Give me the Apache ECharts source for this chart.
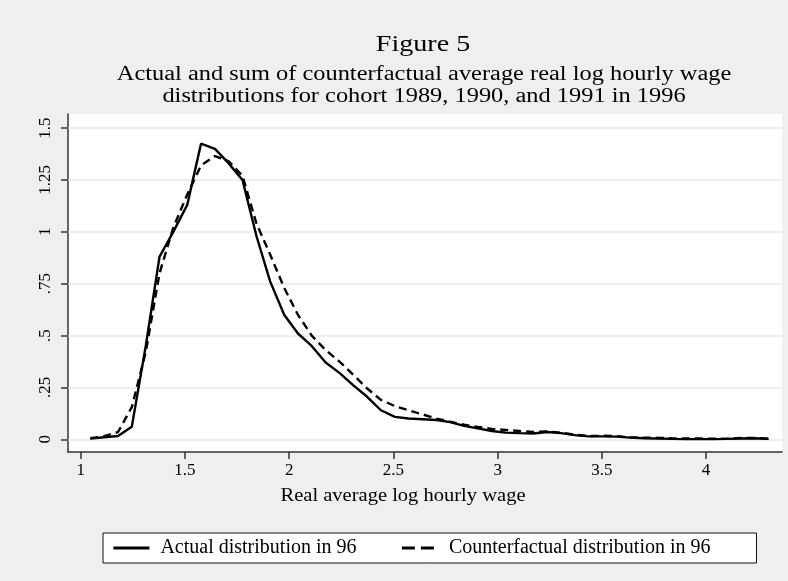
<!DOCTYPE html>
<html>
<head>
<meta charset="utf-8">
<script src="https://cdn.jsdelivr.net/npm/echarts@6/dist/echarts.min.js"></script>
<style>html,body{margin:0;padding:0;background:#efefef;}#c{width:788px;height:581px;}</style>
</head>
<body>
<div id="c"></div>
<script>
// Evaluation grid (real average log hourly wage)
const xs = [1.046,1.112,1.179,1.245,1.312,1.378,1.444,1.511,1.577,1.644,
            1.710,1.776,1.843,1.909,1.976,2.042,2.108,2.175,2.241,2.308,
            2.374,2.440,2.507,2.573,2.640,2.706,2.772,2.839,2.905,2.972,
            3.038,3.104,3.171,3.237,3.304,3.370,3.436,3.503,3.569,3.636,
            3.702,3.768,3.835,3.901,3.968,4.034,4.100,4.167,4.233,4.300];
// Actual distribution in 96
const actual = [0.003,0.010,0.016,0.060,0.450,0.880,1.000,1.130,1.425,1.400,
                1.330,1.250,0.980,0.760,0.600,0.510,0.450,0.370,0.320,0.260,
                0.205,0.140,0.108,0.100,0.097,0.093,0.083,0.065,0.053,0.040,
                0.032,0.030,0.028,0.035,0.030,0.020,0.014,0.014,0.013,0.008,
                0.005,0.004,0.002,0.001,0.001,0.001,0.002,0.004,0.005,0.002];
// Counterfactual distribution in 96
const counter = [0.005,0.015,0.035,0.155,0.420,0.800,1.020,1.180,1.320,1.365,
                 1.340,1.270,1.040,0.890,0.730,0.600,0.500,0.430,0.375,0.310,
                 0.245,0.190,0.160,0.140,0.120,0.100,0.085,0.070,0.060,0.050,
                 0.045,0.040,0.035,0.038,0.032,0.022,0.016,0.017,0.015,0.010,
                 0.008,0.007,0.005,0.004,0.004,0.003,0.003,0.006,0.006,0.003];
const xTicks = [1, 1.5, 2, 2.5, 3, 3.5, 4];
const yTicks = [0, 0.25, 0.5, 0.75, 1, 1.25, 1.5];
const yTickLabels = ['0', '.25', '.5', '.75', '1', '1.25', '1.5'];
const seriesNames = ['Actual distribution in 96', 'Counterfactual distribution in 96'];
const titleText = 'Figure 5';
const subtitleLines = ['Actual and sum of counterfactual average real log hourly wage',
                       'distributions for cohort 1989, 1990, and 1991 in 1996'];
const xAxisTitle = 'Real average log hourly wage';

const FONT = '"Liberation Serif", "Times New Roman", serif';
const chart = echarts.init(document.getElementById('c'), null, {renderer: 'canvas'});

const pairs = ys => xs.map((x, i) => [x, ys[i]]);
const stretchedText = (text, x, y, size, sx) => ({
  type: 'text', x: x, y: y, scaleX: sx, silent: true,
  style: {text: text, font: size + 'px ' + FONT, fill: '#000', textAlign: 'center', textVerticalAlign: 'middle'}
});

chart.setOption({
  backgroundColor: '#efefef',
  animation: false,
  textStyle: {fontFamily: FONT, color: '#000'},
  grid: {
    left: 68, right: 6, top: 114, bottom: 129,
    show: true, backgroundColor: '#ffffff', borderWidth: 0
  },
  legend: {
    data: [
      {name: seriesNames[0]},
      {name: seriesNames[1], lineStyle: {type: [13, 6], width: 2.8}}
    ],
    left: 103, top: 533,
    orient: 'horizontal',
    backgroundColor: '#ffffff',
    borderColor: '#111',
    borderWidth: 1,
    borderRadius: 0,
    padding: [5, 46, 5, 9],
    itemWidth: 36, itemHeight: 14, itemGap: 44,
    itemStyle: {opacity: 0},
    lineStyle: {width: 2.8},
    textStyle: {fontFamily: FONT, fontSize: 20, color: '#000', padding: [0, 0, 0, 6]}
  },
  graphic: [
    stretchedText(titleText, 423, 45, 24, 1.17),
    stretchedText(subtitleLines[0], 424, 75, 20, 1.22),
    stretchedText(subtitleLines[1], 424, 97, 20, 1.22),
    stretchedText(xAxisTitle, 403, 496, 18, 1.14)
  ],
  xAxis: {
    type: 'value',
    min: 0.939, max: 4.364,
    axisLine: {show: true, onZero: false, lineStyle: {color: '#333', width: 1.5}},
    axisTick: {show: true, length: 7, customValues: xTicks, lineStyle: {color: '#333', width: 1.5}},
    axisLabel: {customValues: xTicks, fontFamily: FONT, fontSize: 17, color: '#000', margin: 10},
    splitLine: {show: false}
  },
  yAxis: {
    type: 'value',
    min: -0.0612, max: 1.568,
    axisLine: {show: true, onZero: false, lineStyle: {color: '#333', width: 1.5}},
    axisTick: {show: true, length: 7, customValues: yTicks, lineStyle: {color: '#333', width: 1.5}},
    axisLabel: {
      customValues: yTicks, rotate: 90, fontFamily: FONT, fontSize: 17, color: '#000', margin: 14,
      formatter: v => { const i = yTicks.findIndex(t => Math.abs(t - v) < 1e-9); return i >= 0 ? yTickLabels[i] : ''; }
    },
    splitLine: {show: false}
  },
  series: [
    {
      name: seriesNames[0],
      type: 'line',
      data: pairs(actual),
      symbol: 'none',
      lineStyle: {color: '#000', width: 2.4, type: 'solid'},
      itemStyle: {color: '#000'},
      z: 3,
      markLine: {
        silent: true, symbol: 'none', label: {show: false},
        lineStyle: {color: '#e8e8e8', width: 1.5, type: 'solid'},
        data: yTicks.map(v => ({yAxis: v})),
        z: 1
      }
    },
    {
      name: seriesNames[1],
      type: 'line',
      data: pairs(counter),
      symbol: 'none',
      lineStyle: {color: '#000', width: 2.4, type: [8, 5]},
      itemStyle: {color: '#000'},
      z: 4
    }
  ]
});
</script>
</body>
</html>
